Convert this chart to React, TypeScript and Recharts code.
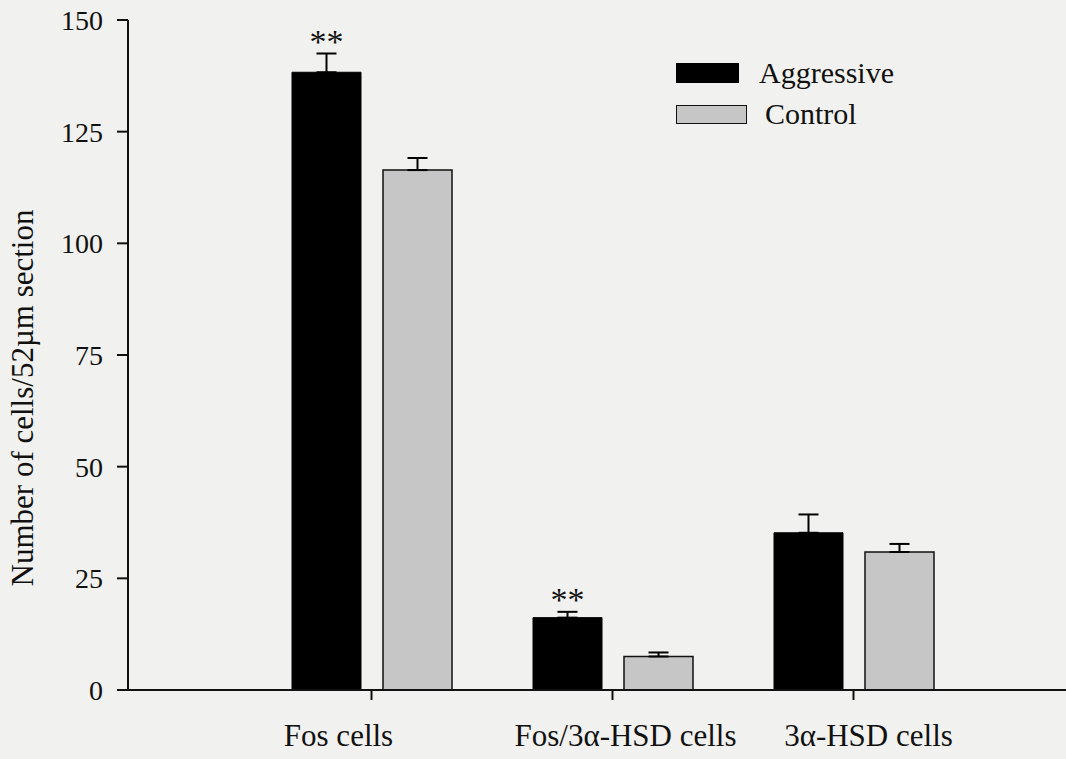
import { BarChart, Bar, XAxis, YAxis, ErrorBar, Legend, LabelList } from 'recharts'

// cell counts per 52µm section
const categories = ['Fos cells', 'Fos/3α-HSD cells', '3α-HSD cells']
const aggressive = [138.3, 16.2, 35.2]
const aggressiveSem = [4.2, 1.3, 4.1]
const control = [116.4, 7.5, 30.9]
const controlSem = [2.7, 0.9, 1.8]
const significance = ['**', '**', '']
const yTicks = [0, 25, 50, 75, 100, 125, 150]

const data = categories.map((name, i) => ({
  name,
  aggressive: aggressive[i],
  aggressiveErr: [0, aggressiveSem[i]], // only the upper whisker is drawn
  control: control[i],
  controlErr: [0, controlSem[i]],
  sig: significance[i],
}))

const FONT = '"Liberation Serif", "Times New Roman", serif'
const INK = '#111'
// category labels in the original sit a little off their tick
const labelShift = [-33, 13, 15]

function CategoryTick({ x, y, payload, index }: any) {
  return (
    <text
      x={x + (labelShift[index] ?? 0)} y={y + 44}
      textAnchor="middle" fontFamily={FONT} fontSize={31} fill={INK}
    >
      {payload.value}
    </text>
  )
}

function Stars({ x, y, width, height, value, index }: any) {
  if (!value) return null
  // whisker length in px, taken from the bar's own scale
  const pxPerUnit = Math.abs(height) / aggressive[index]
  const top = y - aggressiveSem[index] * pxPerUnit
  return (
    <text
      x={x + width / 2} y={top - 1} textAnchor="middle"
      fontFamily={FONT} fontSize={34} fill={INK}
    >
      {value}
    </text>
  )
}

function YTitle({ viewBox }: any) {
  const cx = viewBox.x + 33
  const cy = viewBox.y + viewBox.height / 2 + 43
  return (
    <text
      x={cx} y={cy} transform={`rotate(-90, ${cx}, ${cy})`}
      textAnchor="middle" fontFamily={FONT} fontSize={31} fill={INK}
    >
      Number of cells/52µm section
    </text>
  )
}

function LegendBox() {
  const row = { display: 'flex', alignItems: 'center', height: 20 } as const
  const txt = { fontFamily: FONT, fontSize: 30, color: INK, lineHeight: '20px' }
  return (
    <div style={{ position: 'relative', width: 260 }}>
      <div style={{ ...row }}>
        <div style={{ width: 63, height: 20, background: '#000', boxSizing: 'border-box' }} />
        <span style={{ ...txt, marginLeft: 20 }}>Aggressive</span>
      </div>
      <div style={{ ...row, marginTop: 21 }}>
        <div style={{ width: 71, height: 19, background: '#c6c6c6', border: '1.5px solid #111', boxSizing: 'border-box' }} />
        <span style={{ ...txt, marginLeft: 18 }}>Control</span>
      </div>
    </div>
  )
}

export default function App() {
  return (
    <div style={{ position: 'absolute', left: 0, top: 0, width: 1066, height: 759, background: '#f1f1ef' }}>
      <BarChart
        width={1066} height={759} data={data}
        margin={{ top: 20, right: 0, bottom: 9, left: 0 }}
        barSize={69} barGap={22}
      >
        <XAxis
          dataKey="name" height={60}
          padding={{ left: 123, right: 92 }}
          axisLine={{ stroke: INK, strokeWidth: 2 }}
          tickLine={{ stroke: INK, strokeWidth: 2 }} tickSize={10}
          tick={<CategoryTick />} interval={0}
        />
        <YAxis
          width={128} domain={[0, 150]} ticks={yTicks} interval={0}
          axisLine={{ stroke: INK, strokeWidth: 2 }}
          tickLine={{ stroke: INK, strokeWidth: 2 }} tickSize={11} tickMargin={14}
          tick={{ fontFamily: FONT, fontSize: 28, fill: INK }}
          label={{ content: <YTitle /> }}
        />
        <Legend
          layout="horizontal" verticalAlign="middle" align="center"
          content={<LegendBox />}
          wrapperStyle={{ left: 676, top: 63, width: 260 }}
        />
        <Bar dataKey="aggressive" fill="#000" stroke="#000" strokeWidth={1} isAnimationActive={false}>
          <ErrorBar dataKey="aggressiveErr" direction="y" width={10} stroke="#000" strokeWidth={2} isAnimationActive={false} />
          <LabelList dataKey="sig" content={<Stars />} />
        </Bar>
        <Bar dataKey="control" fill="#c6c6c6" stroke="#111" strokeWidth={1.5} isAnimationActive={false}>
          <ErrorBar dataKey="controlErr" direction="y" width={10} stroke="#000" strokeWidth={2} isAnimationActive={false} />
        </Bar>
      </BarChart>
    </div>
  )
}
